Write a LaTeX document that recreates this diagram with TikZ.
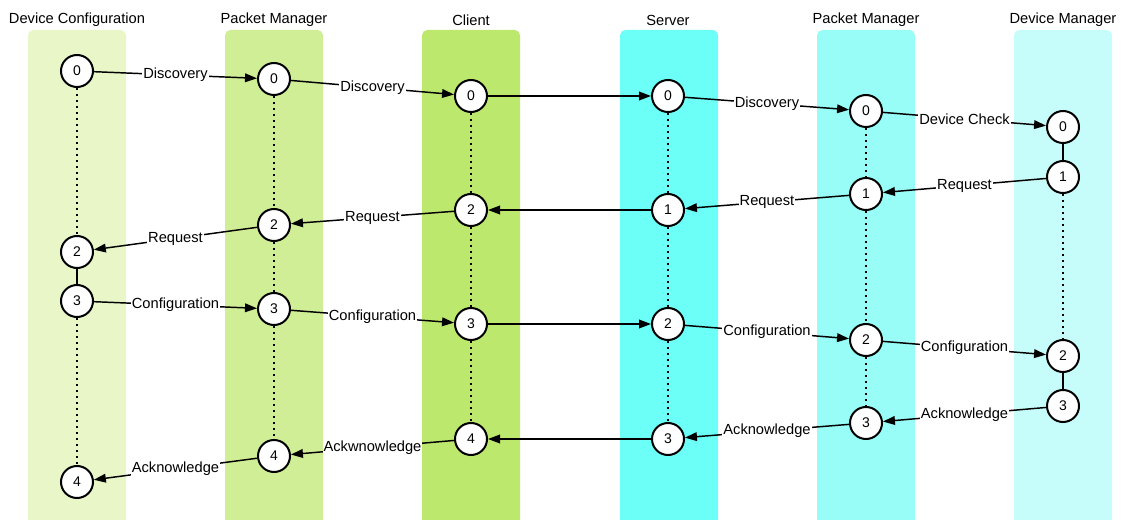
\documentclass[tikz,border=0pt]{standalone}
\usepackage{fontspec}
\setmainfont{Liberation Sans}
\usetikzlibrary{arrows.meta}
\definecolor{laneA}{RGB}{232,246,200}
\definecolor{laneB}{RGB}{208,238,150}
\definecolor{laneC}{RGB}{188,232,110}
\definecolor{laneD}{RGB}{108,255,248}
\definecolor{laneE}{RGB}{152,252,247}
\definecolor{laneF}{RGB}{198,252,249}
\tikzset{
  state/.style={circle, draw=black, fill=white, line width=1.5pt, minimum size=24pt, inner sep=0pt, font=\fontsize{10.5}{12}\selectfont},
  title/.style={font=\fontsize{11}{13}\selectfont, anchor=center},
  msg/.style={line width=1.1pt, -{Triangle[length=9pt,width=6.5pt]}},
  lbl/.style={fill=white, inner sep=0.8pt, font=\fontsize{11}{13}\selectfont},
  life/.style={line width=1.3pt, dash pattern=on 1.3pt off 3.2pt},
  link/.style={line width=1.3pt}
}
\newcommand{\lane}[3]{\fill[#3, rounded corners=4] (#1,520) -- (#1,30) -- (#2,30) [sharp corners] -- (#2,520) -- cycle;}
\begin{document}
\begin{tikzpicture}[x=0.75pt,y=-0.75pt]
\useasboundingbox (0,0) rectangle (1124,520);
\lane{28}{126}{laneA}
\lane{225}{323}{laneB}
\lane{422}{520}{laneC}
\lane{620}{718}{laneD}
\lane{817}{915}{laneE}
\lane{1014}{1112}{laneF}
\node[title] (t1) at (77,20) {Device Configuration};
\node[title] (t2) at (274,20) {Packet Manager};
\node[title] (t3) at (471,20) {Client};
\node[title] (t4) at (668,20) {Server};
\node[title] (t5) at (866,20) {Packet Manager};
\node[title] (t6) at (1063,20) {Device Manager};
% column 1
\node[state] (a0) at (77,71) {0};
\node[state] (a2) at (77,252) {2};
\node[state] (a3) at (77,301) {3};
\node[state] (a4) at (77,482) {4};
% column 2
\node[state] (b0) at (274,79) {0};
\node[state] (b2) at (274,225) {2};
\node[state] (b3) at (274,309) {3};
\node[state] (b4) at (274,456) {4};
% column 3
\node[state] (c0) at (471,96) {0};
\node[state] (c2) at (471,210) {2};
\node[state] (c3) at (471,324) {3};
\node[state] (c4) at (471,439) {4};
% column 4
\node[state] (d0) at (668,96) {0};
\node[state] (d1) at (668,210) {1};
\node[state] (d2) at (668,324) {2};
\node[state] (d3) at (668,439) {3};
% column 5
\node[state] (e0) at (866,111) {0};
\node[state] (e1) at (866,194) {1};
\node[state] (e2) at (866,340) {2};
\node[state] (e3) at (866,423) {3};
% column 6
\node[state] (f0) at (1063,127) {0};
\node[state] (f1) at (1063,177) {1};
\node[state] (f2) at (1063,356) {2};
\node[state] (f3) at (1063,406) {3};
% lifelines
\draw[life] (a0) -- (a2);
\draw[link] (a2) -- (a3);
\draw[life] (a3) -- (a4);
\draw[life] (b0) -- (b2);
\draw[life] (b2) -- (b3);
\draw[life] (b3) -- (b4);
\draw[life] (c0) -- (c2);
\draw[life] (c2) -- (c3);
\draw[life] (c3) -- (c4);
\draw[life] (d0) -- (d1);
\draw[life] (d1) -- (d2);
\draw[life] (d2) -- (d3);
\draw[life] (e0) -- (e1);
\draw[life] (e1) -- (e2);
\draw[life] (e2) -- (e3);
\draw[link] (f0) -- (f1);
\draw[life] (f1) -- (f2);
\draw[link] (f2) -- (f3);
% messages
\draw[msg] (a0) -- node[lbl] {Discovery} (b0);
\draw[msg] (b0) -- node[lbl] {Discovery} (c0);
\draw[msg] (c0) -- (d0);
\draw[msg] (d0) -- node[lbl] {Discovery} (e0);
\draw[msg] (e0) -- node[lbl] {Device Check} (f0);
\draw[msg] (f1) -- node[lbl] {Request} (e1);
\draw[msg] (e1) -- node[lbl] {Request} (d1);
\draw[msg] (d1) -- (c2);
\draw[msg] (c2) -- node[lbl] {Request} (b2);
\draw[msg] (b2) -- node[lbl] {Request} (a2);
\draw[msg] (a3) -- node[lbl] {Configuration} (b3);
\draw[msg] (b3) -- node[lbl] {Configuration} (c3);
\draw[msg] (c3) -- (d2);
\draw[msg] (d2) -- node[lbl] {Configuration} (e2);
\draw[msg] (e2) -- node[lbl] {Configuration} (f2);
\draw[msg] (f3) -- node[lbl] {Acknowledge} (e3);
\draw[msg] (e3) -- node[lbl] {Acknowledge} (d3);
\draw[msg] (d3) -- (c4);
\draw[msg] (c4) -- node[lbl] {Ackwnowledge} (b4);
\draw[msg] (b4) -- node[lbl] {Acknowledge} (a4);
\end{tikzpicture}
\end{document}
